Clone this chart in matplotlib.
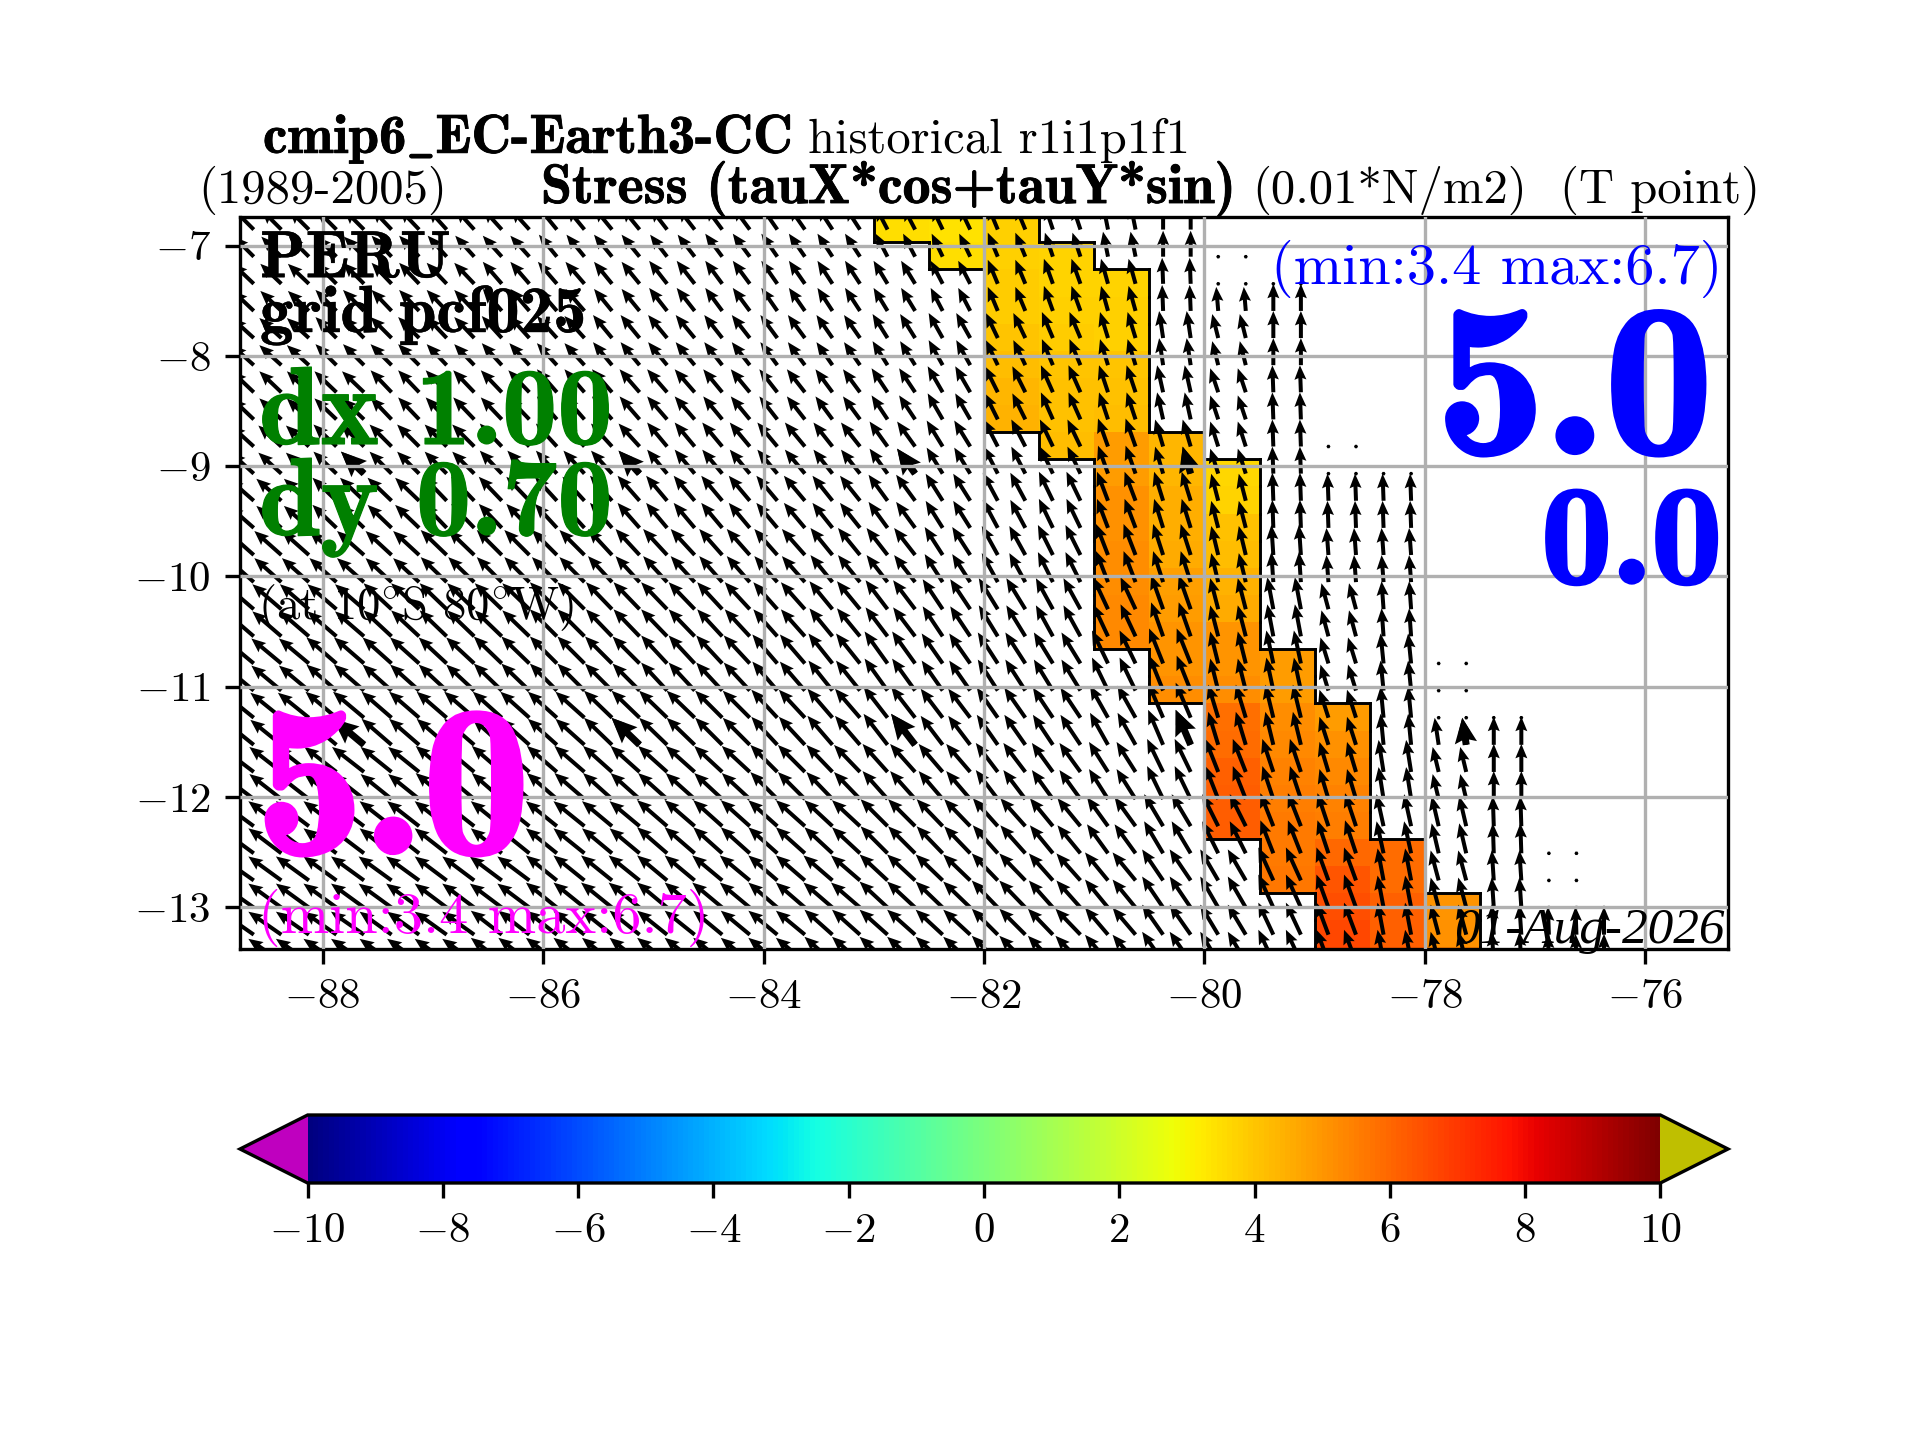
import numpy as np
import matplotlib
matplotlib.use('Agg')
import matplotlib.pyplot as plt
import matplotlib.patheffects as pe

nan = np.nan

plt.rcParams['font.family'] = ['cmr10']
plt.rcParams['mathtext.fontset'] = 'cm'
plt.rcParams['axes.formatter.use_mathtext'] = True
plt.rcParams['axes.unicode_minus'] = False
plt.rcParams['xtick.labelsize'] = 10.3
plt.rcParams['ytick.labelsize'] = 10.3

# colored cells: lon edges, lat edges, values (0.01*N/m2)
lon_edges = [-83.0, -82.5, -82.0, -81.5, -81.0, -80.5, -80.0, -79.5, -79.0, -78.5, -78.0, -77.5]
lat_edges = [-6.724, -6.970, -7.216, -7.462, -7.708, -7.954, -8.200, -8.446, -8.692, -8.938,
             -9.184, -9.430, -9.676, -9.922, -10.168, -10.414, -10.660, -10.906, -11.152, -11.398,
             -11.644, -11.890, -12.136, -12.382, -12.628, -12.874, -13.120, -13.366, -13.612]
cell_values = [
    [3.5, 3.4, 3.8, nan, nan, nan, nan, nan, nan, nan, nan],
    [nan, 3.5, 3.8, 3.7, nan, nan, nan, nan, nan, nan, nan],
    [nan, nan, 3.9, 3.7, 3.7, nan, nan, nan, nan, nan, nan],
    [nan, nan, 3.9, 3.8, 3.8, nan, nan, nan, nan, nan, nan],
    [nan, nan, 4.0, 3.9, 3.8, nan, nan, nan, nan, nan, nan],
    [nan, nan, 4.2, 4.0, 4.0, nan, nan, nan, nan, nan, nan],
    [nan, nan, 4.3, 4.1, 4.1, nan, nan, nan, nan, nan, nan],
    [nan, nan, 4.4, 4.1, 4.2, nan, nan, nan, nan, nan, nan],
    [nan, nan, nan, 4.2, 4.9, 4.3, nan, nan, nan, nan, nan],
    [nan, nan, nan, nan, 4.9, 4.3, 3.6, nan, nan, nan, nan],
    [nan, nan, nan, nan, 5.1, 4.5, 3.7, nan, nan, nan, nan],
    [nan, nan, nan, nan, 5.1, 4.5, 4.1, nan, nan, nan, nan],
    [nan, nan, nan, nan, 5.2, 4.6, 4.2, nan, nan, nan, nan],
    [nan, nan, nan, nan, 5.2, 4.8, 4.4, nan, nan, nan, nan],
    [nan, nan, nan, nan, 5.3, 4.9, 4.6, nan, nan, nan, nan],
    [nan, nan, nan, nan, 5.3, 5.0, 5.0, nan, nan, nan, nan],
    [nan, nan, nan, nan, nan, 5.0, 5.0, 4.9, nan, nan, nan],
    [nan, nan, nan, nan, nan, 5.2, 5.2, 4.9, nan, nan, nan],
    [nan, nan, nan, nan, nan, nan, 5.8, 5.2, 4.9, nan, nan],
    [nan, nan, nan, nan, nan, nan, 5.9, 5.3, 5.1, nan, nan],
    [nan, nan, nan, nan, nan, nan, 6.1, 5.4, 5.3, nan, nan],
    [nan, nan, nan, nan, nan, nan, 6.2, 5.5, 5.4, nan, nan],
    [nan, nan, nan, nan, nan, nan, 6.2, 5.6, 5.5, nan, nan],
    [nan, nan, nan, nan, nan, nan, nan, 5.6, 6.0, 5.9, nan],
    [nan, nan, nan, nan, nan, nan, nan, 5.7, 6.4, 5.9, nan],
    [nan, nan, nan, nan, nan, nan, nan, nan, 6.5, 6.1, 5.0],
    [nan, nan, nan, nan, nan, nan, nan, nan, 6.7, 6.1, 5.1],
    [nan, nan, nan, nan, nan, nan, nan, nan, 6.7, 6.2, 5.4],
]

# arrow grid
arrow_lons = [-88.875, -88.625, -88.375, -88.125, -87.875, -87.625, -87.375, -87.125, -86.875, -86.625,
              -86.375, -86.125, -85.875, -85.625, -85.375, -85.125, -84.875, -84.625, -84.375, -84.125,
              -83.875, -83.625, -83.375, -83.125, -82.875, -82.625, -82.375, -82.125, -81.875, -81.625,
              -81.375, -81.125, -80.875, -80.625, -80.375, -80.125, -79.875, -79.625, -79.375, -79.125,
              -78.875, -78.625, -78.375, -78.125, -77.875, -77.625, -77.375, -77.125, -76.875, -76.625,
              -76.375, -76.125]
arrow_lats = [-6.854, -7.100, -7.346, -7.592, -7.838, -8.084, -8.330, -8.576, -8.822, -9.068,
              -9.314, -9.560, -9.806, -10.052, -10.298, -10.544, -10.790, -11.036, -11.282, -11.528,
              -11.774, -12.020, -12.266, -12.512, -12.758, -13.004, -13.250, -13.496, -13.742, -13.988]

# one row per two arrow rows, one column per two arrow columns
arrow_u = [
    [-20, -20, -20, -20, -19, -19, -18, -18, -17, -17, -16, -15, -12, -11, -10, -8, -5, 0, 0, 0, 0, 0, 0, 0, 0, 0],
    [-21, -21, -21, -20, -20, -19, -19, -18, -18, -17, -16, -15, -14, -12, -10, -9, -7, -1, -2, 0, 0, 0, 0, 0, 0, 0],
    [-22, -22, -21, -21, -20, -20, -20, -19, -19, -18, -17, -16, -15, -14, -12, -11, -8, -4, -6, 0, 0, 0, 0, 0, 0, 0],
    [-22, -22, -22, -21, -21, -21, -20, -20, -20, -19, -18, -17, -16, -15, -13, -12, -9, -6, -8, -1, 0, 0, 0, 0, 0, 0],
    [-23, -23, -23, -22, -22, -22, -21, -21, -20, -20, -20, -19, -18, -16, -14, -13, -10, -8, -8, -1, 0, 0, 0, 0, 0, 0],
    [-25, -25, -24, -24, -23, -23, -22, -22, -21, -21, -21, -20, -19, -17, -15, -14, -11, -9, -7, -1, -1, -1, 0, 0, 0, 0],
    [-27, -27, -27, -26, -26, -25, -25, -24, -24, -23, -23, -22, -21, -18, -16, -15, -12, -10, -7, -2, -2, -2, 0, 0, 0, 0],
    [-29, -29, -29, -28, -27, -27, -27, -26, -26, -25, -24, -23, -22, -20, -19, -17, -15, -12, -8, -6, -7, -2, -1, 0, 0, 0],
    [-30, -30, -30, -29, -28, -28, -27, -27, -26, -26, -25, -24, -23, -21, -20, -19, -16, -14, -8, -7, -8, -3, -2, 0, 0, 0],
    [-31, -31, -31, -30, -30, -29, -29, -28, -28, -27, -26, -25, -24, -22, -21, -20, -18, -15, -10, -8, -9, -3, -4, 0, 0, 0],
    [-33, -32, -32, -31, -31, -30, -30, -29, -29, -28, -27, -26, -25, -24, -22, -21, -19, -16, -13, -11, -9, -5, -6, 0, 0, 0],
    [-34, -33, -33, -32, -32, -31, -31, -30, -30, -29, -29, -28, -27, -26, -25, -23, -21, -19, -16, -13, -11, -7, -7, -1, 0, 0],
    [-34, -33, -33, -33, -32, -32, -31, -31, -30, -30, -29, -29, -28, -27, -26, -24, -23, -21, -18, -15, -12, -6, -8, -2, -1, 0],
    [-33, -33, -33, -32, -32, -31, -31, -30, -30, -29, -29, -28, -28, -27, -26, -25, -23, -21, -18, -15, -12, -6, -8, -2, -1, 0],
    [-32, -32, -32, -32, -31, -31, -30, -30, -30, -29, -29, -28, -28, -27, -26, -25, -23, -21, -18, -15, -12, -6, -8, -2, -1, 0],
]
arrow_v = [
    [20, 20, 20, 21, 21, 21, 22, 22, 22, 23, 23, 23, 23, 23, 24, 24, 25, 26, 27, 27, 27, 27, 27, 27, 27, 27],
    [20, 20, 21, 21, 21, 22, 22, 22, 23, 23, 23, 23, 23, 23, 24, 25, 25, 26, 24, 27, 27, 27, 27, 27, 27, 27],
    [20, 20, 21, 21, 21, 22, 22, 23, 23, 23, 23, 23, 24, 25, 25, 26, 26, 27, 24, 27, 27, 27, 27, 27, 27, 27],
    [21, 21, 21, 22, 22, 22, 23, 23, 23, 23, 23, 23, 24, 26, 26, 27, 27, 27, 24, 27, 27, 27, 27, 27, 27, 27],
    [21, 21, 22, 22, 22, 23, 23, 23, 24, 24, 24, 24, 25, 26, 27, 27, 28, 27, 25, 27, 27, 27, 27, 27, 27, 27],
    [22, 22, 23, 23, 24, 24, 24, 25, 25, 25, 25, 25, 26, 27, 28, 29, 29, 29, 27, 28, 27, 27, 27, 27, 27, 27],
    [24, 24, 24, 24, 25, 25, 25, 26, 26, 26, 26, 27, 27, 28, 29, 30, 31, 31, 29, 30, 27, 27, 27, 27, 27, 27],
    [25, 25, 25, 26, 26, 26, 27, 27, 27, 27, 27, 28, 29, 30, 31, 31, 32, 34, 31, 32, 26, 28, 27, 28, 28, 28],
    [25, 25, 26, 26, 26, 27, 27, 27, 28, 28, 29, 30, 32, 30, 31, 31, 33, 35, 32, 33, 26, 30, 27, 28, 28, 28],
    [25, 25, 26, 26, 26, 26, 26, 27, 27, 27, 28, 29, 31, 29, 30, 30, 32, 35, 33, 33, 28, 31, 27, 28, 28, 28],
    [25, 25, 25, 25, 26, 26, 26, 26, 26, 26, 27, 27, 28, 28, 29, 29, 30, 33, 33, 33, 30, 32, 25, 28, 28, 28],
    [25, 25, 25, 25, 25, 25, 25, 25, 26, 26, 26, 26, 27, 27, 28, 28, 29, 32, 32, 33, 33, 32, 30, 30, 28, 28],
    [24, 24, 24, 24, 24, 24, 25, 25, 25, 25, 25, 25, 26, 26, 27, 27, 28, 31, 31, 33, 33, 32, 30, 30, 28, 28],
    [23, 23, 23, 23, 23, 24, 24, 24, 24, 24, 24, 25, 25, 25, 26, 26, 27, 30, 30, 32, 32, 32, 30, 30, 28, 28],
    [23, 23, 23, 23, 23, 24, 24, 24, 24, 24, 24, 25, 25, 25, 26, 26, 27, 30, 30, 32, 32, 32, 30, 30, 28, 28],
]

# per column: row index of first dot and of first arrow (east of this only land mask)
first_dot = {-79.875: 1, -79.625: 1, -79.375: 2, -79.125: 2, -78.875: 8, -78.625: 8, -78.375: 9, -78.125: 9,
             -77.875: 16, -77.625: 16, -77.375: 18, -77.125: 18, -76.875: 23, -76.625: 23, -76.375: 25, -76.125: 30}
first_arrow = {-79.875: 3, -79.625: 3, -79.375: 3, -79.125: 3, -78.875: 10, -78.625: 10, -78.375: 10, -78.125: 10,
               -77.875: 19, -77.625: 19, -77.375: 19, -77.125: 19, -76.875: 26, -76.625: 26, -76.375: 26, -76.125: 30}

x_ticks = [-88, -86, -84, -82, -80, -78, -76]
y_ticks = [-13, -12, -11, -10, -9, -8, -7]
cbar_ticks = [-10, -8, -6, -4, -2, 0, 2, 4, 6, 8, 10]


def tick_text(v):
    return '$-%d$' % abs(v) if v < 0 else '%d' % v


fig = plt.figure(figsize=(6.4, 4.8), dpi=300)
ax = fig.add_axes([0.125, 1 - 949 / 1440, 0.775, (949 - 217) / 1440])

cmap = plt.get_cmap('jet').copy()
cmap.set_under((0.75, 0, 0.75))
cmap.set_over((0.75, 0.75, 0))
values = np.array(cell_values)
mesh = ax.pcolormesh(lon_edges, lat_edges, values, cmap=cmap, vmin=-10, vmax=10, zorder=1)

# black line round the colored cells
filled = np.pad(~np.isnan(values), 1, constant_values=False)
for j in range(values.shape[0]):
    for i in range(values.shape[1]):
        if not filled[j + 1, i + 1]:
            continue
        if not filled[j, i + 1]:
            ax.plot([lon_edges[i], lon_edges[i + 1]], [lat_edges[j], lat_edges[j]], 'k', lw=0.7, zorder=1.5)
        if not filled[j + 2, i + 1]:
            ax.plot([lon_edges[i], lon_edges[i + 1]], [lat_edges[j + 1], lat_edges[j + 1]], 'k', lw=0.7, zorder=1.5)
        if not filled[j + 1, i]:
            ax.plot([lon_edges[i], lon_edges[i]], [lat_edges[j], lat_edges[j + 1]], 'k', lw=0.7, zorder=1.5)
        if not filled[j + 1, i + 2]:
            ax.plot([lon_edges[i + 1], lon_edges[i + 1]], [lat_edges[j], lat_edges[j + 1]], 'k', lw=0.7, zorder=1.5)

# arrows
u = np.repeat(np.repeat(np.array(arrow_u, dtype=float), 2, axis=0), 2, axis=1)
v = np.repeat(np.repeat(np.array(arrow_v, dtype=float), 2, axis=0), 2, axis=1)
for i, lon in enumerate(arrow_lons):
    if lon in first_dot:
        u[:first_dot[lon], i] = nan
        v[:first_dot[lon], i] = nan
        u[first_dot[lon]:first_arrow[lon], i] = 0
        v[first_dot[lon]:first_arrow[lon], i] = 0
lon2d, lat2d = np.meshgrid(arrow_lons, arrow_lats)
ok = ~np.isnan(u)
ax.quiver(lon2d[ok], lat2d[ok], u[ok], v[ok], angles='uv', scale_units='dots', scale=1,
          units='dots', width=4.0, headwidth=3.0, headlength=3.6, headaxislength=3.2,
          color='k', zorder=1.8, clip_on=True)
# every 10th arrow drawn thicker
big_u = u[9::10, 5::10]
big_v = v[9::10, 5::10]
big_lon = lon2d[9::10, 5::10]
big_lat = lat2d[9::10, 5::10]
ok = (~np.isnan(big_u)) & (big_u**2 + big_v**2 > 0)
ax.quiver(big_lon[ok], big_lat[ok], big_u[ok], big_v[ok], angles='uv', scale_units='dots', scale=1,
          units='dots', width=7.0, headwidth=3.2, headlength=3.6, headaxislength=3.2,
          color='k', zorder=1.8)

ax.set_xlim(-88.75, -75.25)
ax.set_ylim(-13.38, -6.74)
ax.set_xticks(x_ticks)
ax.set_xticklabels([tick_text(t) for t in x_ticks])
ax.set_yticks(y_ticks)
ax.set_yticklabels([tick_text(t) for t in y_ticks])
ax.grid(True, color='#b0b0b0', lw=0.8)
ax.set_axisbelow(False)

# colorbar
cax = fig.add_axes([0.125, 1 - 1183 / 1440, 0.775, 68 / 1440])
cb = fig.colorbar(mesh, cax=cax, orientation='horizontal', extend='both')
cb.set_ticks(cbar_ticks)
cb.set_ticklabels([tick_text(t) for t in cbar_ticks])


def put(xp, yp, s, stroke=0, **kw):
    # xp, yp: pixel position of the text baseline
    kw.setdefault('va', 'baseline')
    t = fig.text(xp / 1920, 1 - yp / 1440, s, zorder=5, **kw)
    if stroke:
        t.set_path_effects([pe.withStroke(linewidth=stroke, foreground=kw.get('color', 'k'))])


BOLD = 'cmb10'
put(263, 153, r'cmip6$\_$EC-Earth3-CC', stroke=0.2, family=BOLD, fontsize=13.2)
put(808, 153, 'historical r1i1p1f1', fontsize=11.65)
put(198, 203, '(1989-2005)', fontsize=11.7)
put(541, 203, 'Stress (tauX*cos+tauY*sin)', stroke=0.2, family=BOLD, fontsize=13.4)
put(1252, 203, '(0.01*N/m2)', fontsize=11.7)
put(1560, 203, '(T point)', fontsize=11.7)

put(260, 332, 'PERU\ngrid pcf025', stroke=0.1, family=BOLD, fontsize=16, linespacing=0.91)
put(259, 535, 'dx 1.00\ndy 0.70', stroke=0.3, color='green', family=BOLD, fontsize=26.6, linespacing=0.91)
put(258, 619, r'(at 10$^{\circ}$S 80$^{\circ}$W)', fontsize=11.2)
put(256, 853, '5.0', stroke=1.0, color='magenta', family=BOLD, fontsize=51.5)
put(258, 933, '(min:3.4 max:6.7)', color='magenta', fontsize=14)

put(1722, 284, '(min:3.4 max:6.7)', color='blue', fontsize=14, ha='right')
put(1713, 453, '5.0', stroke=1.0, color='blue', family=BOLD, fontsize=52, ha='right')
put(1722, 583, '0.0', stroke=0.8, color='blue', family=BOLD, fontsize=34, ha='right')
put(1725, 943, '01-Aug-2026', family='Liberation Serif', style='italic', fontsize=12.3, ha='right')

fig.savefig('out.png', dpi=300)
